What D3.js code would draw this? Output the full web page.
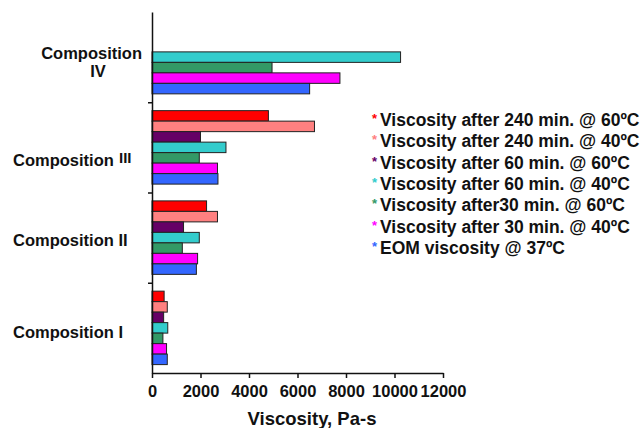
<!DOCTYPE html>
<html>
<head>
<meta charset="utf-8">
<script src="https://cdn.jsdelivr.net/npm/d3@7"></script>
<style>
  body { margin: 0; background: #fff; }
  text { font-family: Arial, "Liberation Sans", sans-serif; font-weight: bold; fill: #111; }
</style>
</head>
<body>
<svg width="640" height="428"></svg>
<script>
// groups from top to bottom
let groups = ['IV', 'III', 'II', 'I']

let seriesNames = [
    'Viscosity after 240 min. @ 60ºC',
    'Viscosity after 240 min. @ 40ºC',
    'Viscosity after 60 min. @ 60ºC',
    'Viscosity after 60 min. @ 40ºC',
    'Viscosity after30 min. @ 60ºC',
    'Viscosity after 30 min. @ 40ºC',
    'EOM viscosity @ 37ºC'
]
let seriesColors = ['#ff0000', '#ff8080', '#660066', '#33cccc', '#339966', '#ff00ff', '#3366ff']

// values per group, in series order (null = no bar)
let compIV = [null, null, null, 10250, 4950, 7750, 6500]
let compIII = [4800, 6700, 2000, 3050, 1950, 2700, 2720]
let compII = [2250, 2700, 1300, 1950, 1250, 1880, 1830]
let compI = [500, 630, 480, 650, 450, 600, 630]

let xTicks = [0, 2000, 4000, 6000, 8000, 10000, 12000]

let values = { 'IV': compIV, 'III': compIII, 'II': compII, 'I': compI }

let svg = d3.select('svg')

let xScale = d3.scaleLinear().domain([0, 12000]).range([152, 443])
let yScale = d3.scaleBand().domain(groups).range([12, 373]).padding(0)
let inner = d3.scaleBand().domain(d3.range(seriesNames.length))
                .range([0, yScale.bandwidth()]).paddingInner(0).paddingOuter(0.8)

// bars
groups.forEach(g => {
    let rows = values[g].map((v, i) => ({ v: v, i: i })).filter(d => d.v !== null)
    svg.append('g')
        .selectAll('rect')
        .data(rows)
        .enter()
        .append('rect')
        .attr('x', xScale(0))
        .attr('y', d => yScale(g) + inner(d.i))
        .attr('width', d => xScale(d.v) - xScale(0))
        .attr('height', inner.bandwidth())
        .attr('fill', d => seriesColors[d.i])
        .attr('stroke', '#222')
        .attr('stroke-width', 1)
})

// x axis
let xAxis = d3.axisBottom(xScale).tickValues(xTicks).tickFormat(d3.format('d')).tickSize(5).tickSizeOuter(0)
let gx = svg.append('g')
    .attr('transform', 'translate(0,373)')
    .call(xAxis)
gx.select('.domain').attr('stroke', '#111').attr('stroke-width', 1.5)
gx.selectAll('.tick line').attr('stroke', '#111').attr('stroke-width', 1.5)
gx.selectAll('.tick text')
    .attr('font-size', 16.5).attr('font-family', 'Arial, "Liberation Sans", sans-serif')
    .attr('font-weight', 'bold').attr('fill', '#111').attr('dy', '0.95em')

// y axis with ticks between groups
let yIdx = d3.scaleLinear().domain([0, 4]).range([373, 12])
let yAxis = d3.axisLeft(yIdx).tickValues([1, 2, 3]).tickFormat('').tickSize(4).tickSizeOuter(0)
let gy = svg.append('g')
    .attr('transform', 'translate(152,0)')
    .call(yAxis)
gy.select('.domain').attr('stroke', '#111').attr('stroke-width', 1.5)
gy.selectAll('.tick line').attr('stroke', '#111').attr('stroke-width', 1.5)

// group labels
let mid = g => yScale(g) + yScale.bandwidth() / 2
svg.append('text').attr('x', 142).attr('y', mid('IV') + 2).attr('text-anchor', 'end')
    .attr('font-size', 16.5).text('Composition')
svg.append('text').attr('x', 98).attr('y', mid('IV') + 20).attr('text-anchor', 'middle')
    .attr('font-size', 16.5).text('IV')
let l3 = svg.append('text').attr('x', 13).attr('y', mid('III') + 19).attr('font-size', 16.5)
l3.append('tspan').text('Composition')
l3.append('tspan').attr('x', 119).attr('dy', -3).attr('font-size', 15).text('III')
svg.append('text').attr('x', 13).attr('y', mid('II') + 8).attr('font-size', 16.5).text('Composition II')
svg.append('text').attr('x', 13).attr('y', mid('I') + 10).attr('font-size', 16.5).text('Composition I')

// x title
svg.append('text').attr('x', 312).attr('y', 425).attr('text-anchor', 'middle')
    .attr('font-size', 18.5).text('Viscosity, Pa-s')

// legend
let legend = svg.append('g')
    .selectAll('g')
    .data(seriesNames)
    .enter()
    .append('g')
    .attr('transform', (d, i) => 'translate(380,' + (126 + i * 21.3) + ')')
legend.append('text').attr('x', -8).attr('y', -3).attr('font-size', 13)
    .style('fill', (d, i) => seriesColors[i]).text('*')
legend.append('text').attr('x', 0).attr('y', 0).attr('font-size', 17.5).text(d => d)
</script>
</body>
</html>
